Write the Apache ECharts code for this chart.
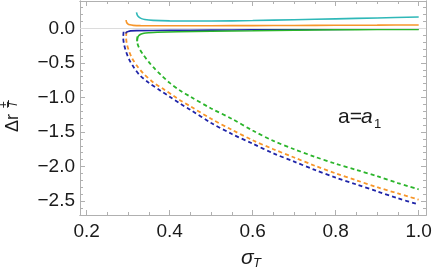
<!DOCTYPE html>
<html><head><meta charset="utf-8">
<script src="https://cdn.jsdelivr.net/npm/echarts@6/dist/echarts.min.js"></script>
<style>html,body{margin:0;padding:0;background:#fff}#c{width:436px;height:273px}</style>
</head><body><div id="c"></div>
<script>
var xMajor = [0.2, 0.4, 0.6, 0.8, 1.0];
var xMinor = [0.25, 0.3, 0.35, 0.45, 0.5, 0.55, 0.65, 0.7, 0.75, 0.85, 0.9, 0.95];
var yMajor = [0.0, -0.5, -1.0, -1.5, -2.0, -2.5];
var yMinor = [0.3, 0.2, 0.1, -0.1, -0.2, -0.3, -0.4, -0.6, -0.7, -0.8, -0.9, -1.1, -1.2, -1.3, -1.4, -1.6, -1.7, -1.8, -1.9, -2.1, -2.2, -2.3, -2.4, -2.6, -2.7];

var cyanSolid = [[0.320,0.23],[0.322,0.19],[0.326,0.16],[0.332,0.14],[0.34,0.127],[0.36,0.115],[0.40,0.108],[0.50,0.106],[0.6,0.112],[0.7,0.124],[0.8,0.137],[0.9,0.15],[1.0,0.163]];
var orangeSolid = [[0.295,0.12],[0.296,0.09],[0.299,0.065],[0.304,0.05],[0.312,0.042],[0.33,0.038],[0.4,0.036],[0.5,0.037],[0.6,0.039],[0.7,0.041],[0.8,0.044],[0.9,0.046],[1.0,0.048]];
var blueSolid = [[0.294,-0.075],[0.296,-0.055],[0.300,-0.045],[0.306,-0.038],[0.32,-0.034],[0.4,-0.03],[0.5,-0.026],[0.6,-0.022],[0.7,-0.019],[0.8,-0.016],[0.9,-0.013],[1.0,-0.01]];
var greenSolid = [[0.321,-0.19],[0.322,-0.15],[0.325,-0.11],[0.33,-0.085],[0.338,-0.072],[0.35,-0.065],[0.37,-0.058],[0.42,-0.05],[0.5,-0.042],[0.6,-0.035],[0.7,-0.028],[0.8,-0.022],[0.9,-0.018],[1.0,-0.015]];
var blueDashed = [[0.289,-0.05],[0.288,-0.13],[0.290,-0.23],[0.295,-0.34],[0.303,-0.46],[0.314,-0.57],[0.328,-0.68],[0.35,-0.79],[0.377,-0.90],[0.40,-0.99],[0.425,-1.09],[0.45,-1.18],[0.5,-1.37],[0.55,-1.53],[0.6,-1.67],[0.65,-1.81],[0.7,-1.93],[0.75,-2.05],[0.8,-2.16],[0.85,-2.26],[0.9,-2.36],[0.95,-2.46],[1.0,-2.55]];
var orangeDashed = [[0.296,-0.05],[0.295,-0.13],[0.297,-0.23],[0.302,-0.33],[0.31,-0.44],[0.322,-0.55],[0.336,-0.65],[0.36,-0.78],[0.385,-0.88],[0.41,-0.98],[0.425,-1.04],[0.45,-1.13],[0.5,-1.31],[0.55,-1.47],[0.6,-1.62],[0.65,-1.75],[0.7,-1.87],[0.75,-1.99],[0.8,-2.10],[0.85,-2.20],[0.9,-2.30],[0.95,-2.39],[1.0,-2.48]];
var greenDashed = [[0.322,-0.12],[0.322,-0.2],[0.326,-0.28],[0.336,-0.38],[0.35,-0.49],[0.36,-0.56],[0.38,-0.68],[0.40,-0.79],[0.425,-0.90],[0.45,-0.99],[0.5,-1.16],[0.55,-1.31],[0.6,-1.48],[0.65,-1.63],[0.7,-1.75],[0.75,-1.86],[0.8,-1.96],[0.85,-2.05],[0.9,-2.14],[0.95,-2.24],[1.0,-2.33]];

var XMIN = 0.1839, XMAX = 1.0176, YMIN = -2.702, YMAX = 0.395;
var AX = '#b0b0b0';
var FONT = '"Liberation Sans", Arial, sans-serif';

function fmt(v){ return v < 0 ? '\u2212' + Math.abs(v).toFixed(1) : Math.abs(v).toFixed(1); }
function xAx(pos, vals, len, lab){
  return {type:'value', min:XMIN, max:XMAX, position:pos, gridIndex:0,
    axisLine:{show:true, onZero:false, lineStyle:{color:AX, width:1}},
    axisTick:{show:true, inside:true, length:len, customValues:vals, lineStyle:{color:AX, width:1}},
    axisLabel:{show:lab, customValues:vals, formatter:fmt, fontSize:19, color:'#1a1a1a', fontFamily:FONT, margin:7},
    splitLine:{show:false}, minorTick:{show:false}};
}
function yAx(pos, vals, len, lab){
  return {type:'value', min:YMIN, max:YMAX, position:pos, gridIndex:0,
    axisLine:{show:true, onZero:false, lineStyle:{color:AX, width:1}},
    axisTick:{show:true, inside:true, length:len, customValues:vals, lineStyle:{color:AX, width:1}},
    axisLabel:{show:lab, customValues:vals, formatter:fmt, fontSize:19, color:'#1a1a1a', fontFamily:FONT, margin:5},
    splitLine:{show:false}, minorTick:{show:false}};
}
function ln(data, color, dashed){
  return {type:'line', xAxisIndex:0, yAxisIndex:0, data:data, showSymbol:false, symbol:'none', smooth:0.3,
    lineStyle:{color:color, width:dashed?1.8:1.6, type:dashed?[4,3]:'solid'}, animation:false, z:3};
}
var chart = echarts.init(document.getElementById('c'), null, {renderer:'canvas'});
chart.setOption({
  animation:false,
  grid:{left:80, right:10, top:1, bottom:58},
  xAxis:[xAx('bottom', xMajor, 5, true), xAx('bottom', xMinor, 3, false), xAx('top', xMajor, 5, false), xAx('top', xMinor, 3, false)],
  yAxis:[yAx('left', yMajor, 5, true), yAx('left', yMinor, 3, false), yAx('right', yMajor, 5, false), yAx('right', yMinor, 3, false)],
  series:[
    {type:'line', data:[], markLine:{silent:true, symbol:'none', label:{show:false}, lineStyle:{color:'#dcdcdc', width:1, type:'solid'}, data:[{yAxis:0}]}, z:1},
    ln(blueDashed, '#1f24a8', true),
    ln(orangeDashed, '#f7962a', true),
    ln(greenDashed, '#2bb52b', true),
    ln(cyanSolid, '#2fb8b8', false),
    ln(orangeSolid, '#f7962a', false),
    ln(blueSolid, '#1f24a8', false),
    ln(greenSolid, '#2bb52b', false)
  ],
  graphic:[
    {type:'group', x:13, y:132, rotation:Math.PI/2, children:[
      {type:'text', x:0, y:0, style:{text:'\u0394r', fontSize:18, fontFamily:FONT, fill:'#1a1a1a', align:'left', verticalAlign:'middle'}},
      {type:'text', x:24, y:-8, style:{text:'\u00b1', fontSize:12, fontFamily:FONT, fill:'#1a1a1a', align:'left', verticalAlign:'middle'}},
      {type:'text', x:24, y:1, style:{text:'T', fontSize:12, fontStyle:'italic', fontFamily:FONT, fill:'#1a1a1a', align:'left', verticalAlign:'middle'}}
    ]},
    {type:'text', x:241, y:258, style:{text:'\u03c3', fontSize:21, fontStyle:'italic', fontFamily:FONT, fill:'#1a1a1a', align:'left', verticalAlign:'middle'}},
    {type:'text', x:253, y:263, style:{text:'T', fontSize:13, fontStyle:'italic', fontFamily:FONT, fill:'#1a1a1a', align:'left', verticalAlign:'middle'}},
    {type:'text', x:338, y:117, style:{text:'a=', fontSize:21, fontFamily:FONT, fill:'#1a1a1a', align:'left', verticalAlign:'middle'}},
    {type:'text', x:361, y:117, style:{text:'a', fontSize:21, fontStyle:'italic', fontFamily:FONT, fill:'#1a1a1a', align:'left', verticalAlign:'middle'}},
    {type:'text', x:374, y:124, style:{text:'1', fontSize:13, fontFamily:FONT, fill:'#1a1a1a', align:'left', verticalAlign:'middle'}}
  ]
});
</script></body></html>
